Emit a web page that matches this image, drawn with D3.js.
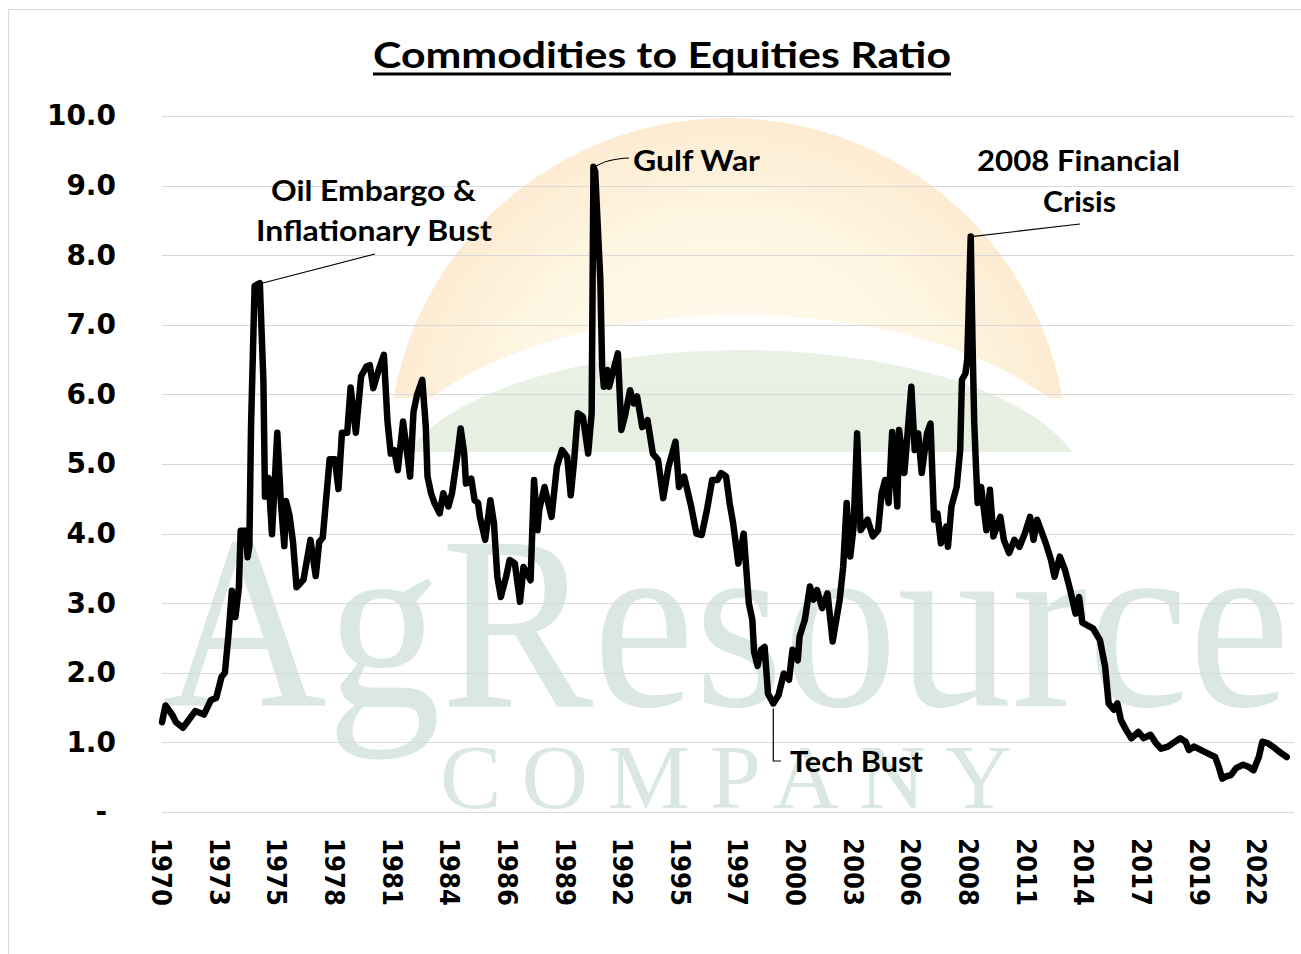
<!DOCTYPE html>
<html>
<head>
<meta charset="utf-8">
<script src="https://cdn.jsdelivr.net/npm/d3@7"></script>
<style>
body { margin: 0; background: #fff; }
svg { display: block; }
</style>
</head>
<body>
<svg id="chart" width="1301" height="954"></svg>
<script>
// readings of the commodities / equities ratio, month by month
var months = [
	"1970-04","1970-06","1970-10","1970-12","1971-04","1971-07","1971-11","1972-04","1972-08","1972-11",
	"1973-02","1973-04","1973-06","1973-08","1973-10","1973-12","1974-01","1974-04","1974-05","1974-06",
	"1974-07","1974-09","1974-12","1975-02","1975-03","1975-05","1975-07","1975-10","1975-12","1976-02",
	"1976-03","1976-05","1976-07","1976-09","1977-01","1977-05","1977-08","1977-10","1977-12","1978-04",
	"1978-07","1978-09","1978-11","1979-02","1979-04","1979-07","1979-10","1980-01","1980-03","1980-05",
	"1980-08","1980-11","1981-01","1981-03","1981-05","1981-07","1981-10","1982-02","1982-04","1982-06",
	"1982-09","1982-11","1982-12","1983-02","1983-04","1983-07","1983-09","1983-12","1984-02","1984-05",
	"1984-07","1984-09","1984-10","1985-01","1985-03","1985-05","1985-06","1985-09","1985-12","1986-02",
	"1986-04","1986-06","1986-09","1986-11","1987-02","1987-05","1987-07","1987-11","1988-01","1988-03",
	"1988-04","1988-07","1988-11","1989-02","1989-05","1989-08","1989-10","1989-12","1990-02","1990-05",
	"1990-08","1990-10","1990-11","1990-12","1991-03","1991-04","1991-05","1991-07","1991-08","1991-11",
	"1992-01","1992-03","1992-05","1992-08","1992-10","1992-12","1993-03","1993-06","1993-09","1993-12",
	"1994-03","1994-06","1994-10","1994-12","1995-03","1995-07","1995-10","1996-01","1996-04","1996-07",
	"1996-10","1996-12","1997-03","1997-05","1997-07","1997-10","1998-01","1998-04","1998-06","1998-07",
	"1998-09","1998-11","1999-01","1999-03","1999-06","1999-09","1999-12","2000-03","2000-05","2000-08",
	"2000-09","2000-12","2001-03","2001-05","2001-07","2001-10","2002-01","2002-04","2002-08","2002-10",
	"2002-12","2003-02","2003-04","2003-06","2003-08","2003-12","2004-03","2004-06","2004-08","2004-10",
	"2004-12","2005-02","2005-05","2005-06","2005-09","2005-11","2006-01","2006-03","2006-05","2006-07",
	"2006-10","2006-12","2007-02","2007-04","2007-06","2007-09","2007-10","2007-12","2008-03","2008-05",
	"2008-06","2008-08","2008-09","2008-11","2008-12","2009-01","2009-02","2009-03","2009-05","2009-08",
	"2009-10","2009-12","2010-04","2010-06","2010-09","2010-12","2011-03","2011-06","2011-09","2011-11",
	"2012-01","2012-04","2012-06","2012-09","2012-11","2013-02","2013-05","2013-08","2013-11","2014-01",
	"2014-03","2014-09","2015-01","2015-04","2015-06","2015-09","2015-11","2016-01","2016-04","2016-07",
	"2016-11","2017-02","2017-06","2017-09","2017-12","2018-04","2018-08","2018-11","2019-02","2019-04",
	"2019-07","2019-11","2020-03","2020-07","2020-09","2020-11","2021-01","2021-04","2021-07","2021-11",
	"2022-02","2022-05","2022-08","2022-10","2023-01","2023-04","2023-08","2023-12"
];
var ratio = [
	1.29,1.53,1.39,1.29,1.21,1.31,1.45,1.40,1.61,1.64,
	1.94,2.00,2.53,3.18,2.80,3.23,4.04,4.04,3.66,3.82,
	5.55,7.56,7.60,6.20,4.53,4.80,3.99,5.45,4.47,3.82,
	4.47,4.26,3.88,3.23,3.34,3.91,3.39,3.88,3.94,5.07,
	5.07,4.64,5.45,5.45,6.10,5.45,6.26,6.40,6.42,6.09,
	6.35,6.57,5.63,5.15,5.20,4.91,5.61,4.82,5.75,5.99,
	6.21,5.54,4.82,4.58,4.44,4.29,4.58,4.39,4.58,5.10,
	5.51,5.15,4.72,4.79,4.48,4.44,4.24,3.91,4.48,4.15,
	3.38,3.09,3.38,3.62,3.57,3.02,3.52,3.33,4.77,4.05,
	4.35,4.67,4.24,4.96,5.20,5.10,4.55,5.06,5.73,5.68,
	5.15,5.73,9.27,9.20,7.64,6.40,6.11,6.35,6.11,6.40,
	6.59,5.49,5.68,6.06,5.87,5.97,5.53,5.63,5.15,5.06,
	4.51,4.96,5.32,4.67,4.82,4.39,4.00,3.98,4.34,4.77,
	4.77,4.87,4.82,4.44,4.15,3.57,4.00,3.00,2.76,2.30,
	2.10,2.33,2.37,1.70,1.56,1.68,1.99,1.90,2.33,2.18,
	2.52,2.76,3.24,3.05,3.19,2.93,3.14,2.45,3.05,3.52,
	4.44,3.67,4.10,5.44,4.05,4.20,3.96,4.05,4.58,4.77,
	4.44,5.46,4.39,5.49,4.87,5.49,6.11,5.20,5.44,4.87,
	5.44,5.58,4.20,4.29,3.86,4.10,3.81,4.39,4.67,5.20,
	6.21,6.30,6.50,8.27,6.80,5.60,4.96,4.44,4.67,4.05,
	4.63,3.96,4.24,3.91,3.72,3.91,3.81,4.00,4.24,3.91,
	4.20,4.00,3.86,3.62,3.38,3.67,3.48,3.19,2.85,3.09,
	2.72,2.64,2.47,2.09,1.56,1.47,1.56,1.32,1.18,1.06,
	1.15,1.06,1.11,0.99,0.91,0.94,1.01,1.06,1.01,0.89,
	0.94,0.89,0.84,0.79,0.65,0.48,0.51,0.53,0.63,0.68,
	0.65,0.60,0.79,1.01,0.99,0.94,0.86,0.79
];
// the category axis shows a label every 33 months
var tickMonths = ["1970-04","1973-01","1975-10","1978-07","1981-04","1984-01","1986-10","1989-07","1992-04","1995-01",
	"1997-10","2000-07","2003-04","2006-01","2008-10","2011-07","2014-04","2017-01","2019-10","2022-07"];
var yTicks = [0,1,2,3,4,5,6,7,8,9,10];
var eventNames = [["Oil Embargo &","Inflationary Bust"], ["Gulf War"], ["Tech Bust"], ["2008 Financial","Crisis"]];
var eventMonths = ["1974-12","1990-11","1999-06","2008-11"];

var parseMonth = d3.timeParse("%Y-%m");
var series = months.map(function(m, i){
	return {date: parseMonth(m), value: ratio[i]};
});

var svg = d3.select("#chart");
var x = d3.scaleTime()
	.domain([parseMonth("1970-04"), parseMonth("2024-03")])
	.range([162, 1292]);
var y = d3.scaleLinear()
	.domain([0, 10])
	.range([812, 116]);

// outer frame of the chart
svg.append("rect")
	.attr("x", 8.5).attr("y", 9.5)
	.attr("width", 1300).attr("height", 960)
	.attr("fill", "#fff")
	.attr("stroke", "#d9d9d9");

// watermark: sun, hill and the company name
var defs = svg.append("defs");
var sunGrad = defs.append("radialGradient")
	.attr("id", "sunGrad")
	.attr("gradientUnits", "userSpaceOnUse")
	.attr("cx", 728).attr("cy", 458).attr("r", 340);
sunGrad.append("stop").attr("offset", "0%").attr("stop-color", "#fffdf4");
sunGrad.append("stop").attr("offset", "70%").attr("stop-color", "#fef6e2");
sunGrad.append("stop").attr("offset", "100%").attr("stop-color", "#fdebd2");
var hillGrad = defs.append("linearGradient")
	.attr("id", "hillGrad")
	.attr("x1", 0).attr("y1", 0).attr("x2", 0).attr("y2", 1);
hillGrad.append("stop").attr("offset", "0%").attr("stop-color", "#eaf1e5");
hillGrad.append("stop").attr("offset", "100%").attr("stop-color", "#e0eadd");
defs.append("clipPath").attr("id", "sunClip")
	.append("rect").attr("x", 0).attr("y", 0).attr("width", 1301).attr("height", 398);
defs.append("clipPath").attr("id", "hillClip")
	.append("rect").attr("x", 0).attr("y", 0).attr("width", 1301).attr("height", 452);

var mark = svg.append("g").attr("class", "watermark");
mark.append("circle")
	.attr("cx", 728).attr("cy", 458).attr("r", 340)
	.attr("fill", "url(#sunGrad)")
	.attr("clip-path", "url(#sunClip)");
mark.append("ellipse")
	.attr("cx", 740).attr("cy", 500).attr("rx", 370).attr("ry", 185)
	.attr("fill", "#fff")
	.attr("clip-path", "url(#sunClip)");
mark.append("ellipse")
	.attr("cx", 740).attr("cy", 490).attr("rx", 345).attr("ry", 140)
	.attr("fill", "url(#hillGrad)")
	.attr("clip-path", "url(#hillClip)");
// name set a little smaller and stretched up so it keeps inside the frame
mark.append("text")
	.attr("transform", "translate(162,706) scale(1,1.09)")
	.attr("font-family", "'Liberation Serif', 'DejaVu Serif', serif")
	.attr("font-size", 228)
	.attr("fill", "#dae8e1")
	.attr("textLength", 1128)
	.attr("lengthAdjust", "spacingAndGlyphs")
	.text("AgResource");
mark.append("text")
	.attr("x", 440).attr("y", 808)
	.attr("font-family", "'Liberation Serif', 'DejaVu Serif', serif")
	.attr("font-size", 92)
	.attr("fill", "#dae8e1")
	.attr("textLength", 572)
	.attr("lengthAdjust", "spacing")
	.text("COMPANY");

// gridlines
svg.append("g").attr("class", "grid")
	.selectAll("line")
	.data(yTicks)
	.enter().append("line")
	.attr("x1", 162).attr("x2", 1294)
	.attr("y1", function(d){ return Math.round(y(d)) + 0.5; })
	.attr("y2", function(d){ return Math.round(y(d)) + 0.5; })
	.attr("stroke", "#d9d9d9")
	.attr("stroke-width", 1);

// y axis labels
var yAxis = svg.append("g")
	.attr("transform", "translate(116,0)")
	.call(d3.axisLeft(y).tickValues(yTicks).tickSize(0).tickPadding(0)
		.tickFormat(function(d){ return d === 0 ? "-" : d3.format(".1f")(d); }));
yAxis.select(".domain").remove();
yAxis.selectAll("text")
	.attr("font-family", "'DejaVu Sans', Verdana, sans-serif")
	.attr("font-weight", "bold")
	.attr("font-size", 28)
	.attr("fill", "#000")
	.attr("dx", function(d){ return d === 0 ? -9 : 0; });

// x axis labels, turned to read downwards
var xAxis = svg.append("g")
	.attr("transform", "translate(0,838)")
	.call(d3.axisBottom(x).tickValues(tickMonths.map(parseMonth)).tickSize(0).tickPadding(0)
		.tickFormat(d3.timeFormat("%Y")));
xAxis.select(".domain").remove();
xAxis.selectAll("text")
	.attr("font-family", "'DejaVu Sans', Verdana, sans-serif")
	.attr("font-weight", "bold")
	.attr("font-size", 26)
	.attr("fill", "#000")
	.attr("text-anchor", "start")
	.attr("y", 0)
	.attr("dy", "0.4em")
	.attr("transform", "rotate(90)")
	.attr("textLength", 68)
	.attr("lengthAdjust", "spacingAndGlyphs");

// the ratio line
var line = d3.line()
	.x(function(d){ return x(d.date); })
	.y(function(d){ return y(d.value); });
svg.append("path")
	.datum(series)
	.attr("d", line)
	.attr("fill", "none")
	.attr("stroke", "#000")
	.attr("stroke-width", 6.5)
	.attr("stroke-linejoin", "round")
	.attr("stroke-linecap", "round");

// title
svg.append("text")
	.attr("x", 373).attr("y", 68)
	.attr("font-family", "Lato, 'Open Sans', sans-serif")
	.attr("font-weight", "bold")
	.attr("font-size", 37)
	.attr("textLength", 578)
	.attr("lengthAdjust", "spacingAndGlyphs")
	.text("Commodities to Equities Ratio");
svg.append("line")
	.attr("x1", 373).attr("x2", 951)
	.attr("y1", 74).attr("y2", 74)
	.attr("stroke", "#000")
	.attr("stroke-width", 3);

// event call-outs
var anchors = eventMonths.map(function(m){
	var d = series.find(function(p){ return +p.date === +parseMonth(m); });
	return [x(d.date), y(d.value)];
});
var notes = svg.append("g").attr("class", "notes")
	.attr("font-family", "Lato, 'Open Sans', sans-serif")
	.attr("font-weight", "bold")
	.attr("font-size", 28);
// text spots: [x, baseline, width] per line
var spots = [
	[[271, 201, 205], [256, 241, 236]],
	[[633, 171, 127]],
	[[790, 772, 133]],
	[[977, 171, 203], [1043, 212, 73]]
];
eventNames.forEach(function(lines, i){
	lines.forEach(function(t, j){
		notes.append("text")
			.attr("x", spots[i][j][0]).attr("y", spots[i][j][1])
			.attr("textLength", spots[i][j][2])
			.attr("lengthAdjust", "spacingAndGlyphs")
			.text(t);
	});
});
var leader = svg.append("g")
	.attr("fill", "none")
	.attr("stroke", "#000")
	.attr("stroke-width", 1.2);
leader.append("path").attr("d", "M" + (anchors[0][0] + 3) + "," + anchors[0][1] + "L375,254");
leader.append("path").attr("d", "M" + (anchors[1][0] + 2) + "," + anchors[1][1] + "Q606,159 629,158");
leader.append("path").attr("d", "M" + anchors[2][0] + "," + (anchors[2][1] + 5) + "V761H781");
leader.append("path").attr("d", "M" + (anchors[3][0] + 3) + "," + anchors[3][1] + "L1080,224");
</script>
</body>
</html>
